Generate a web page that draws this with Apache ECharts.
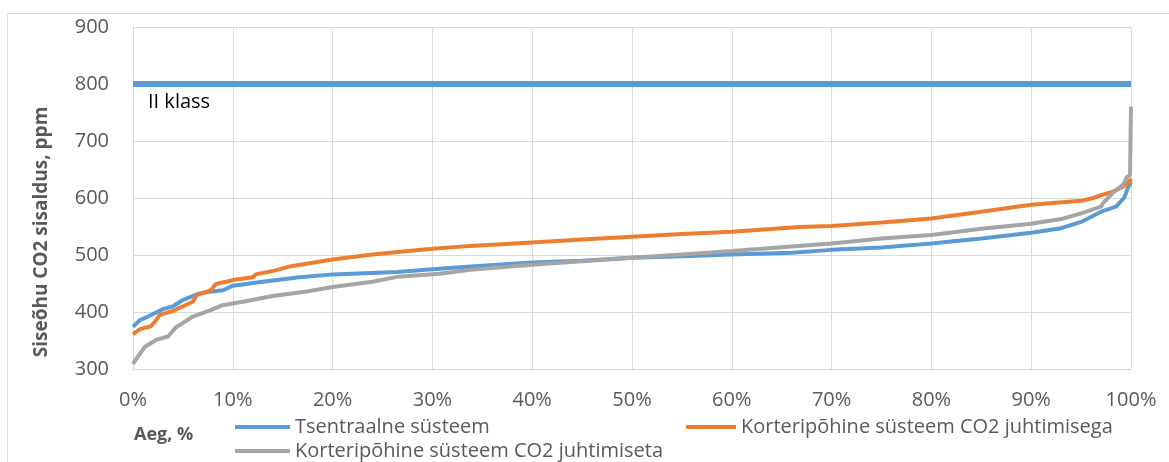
<!DOCTYPE html>
<html>
<head>
<meta charset="utf-8">
<script src="https://cdn.jsdelivr.net/npm/echarts@6/dist/echarts.min.js"></script>
<style>
  html,body{margin:0;padding:0;background:#fff;}
  #main{width:1169px;height:462px;}
</style>
</head>
<body>
<div id="main"></div>
<script>
// aeg, % (x) ja CO2 sisaldus, ppm (y)
const pctTsentraalne = [0,0.7,1.5,3,4,5,6.4,7.5,9,10,13,16.7,20,26.5,30,33.8,40,45,50,55,60,66,70,75,80,85,90,93,95,97,98.5,99.3,99.7,100];
const co2Tsentraalne = [374,386,392,405,410,421,431,435,438,446,453,461,466,470,475,480,487,490,495,498,501,504,509,513,520,529,539,547,558,576,585,600,618,628];

const pctKorterCO2 = [0,0.7,1.8,2.2,2.7,4,6,6.4,7.8,8.3,10,12,12.3,14.3,15.7,20,24,29.4,33.8,40,45,50,55,60,66.8,70,75,80,85,90,95,96.2,97,98.2,99.2,99.8,100];
const co2KorterCO2 = [361,370,375,383,395,402,418,430,438,449,456,461,466,473,480,492,501,510,516,522,527,532,537,541,549,551,557,564,576,588,595,600,605,611,620,628,634];

const pctKorterIlma = [0,0.5,1.2,2.3,3.5,4.3,6,7.7,9,11,14,17.4,20,24,26.6,30.7,33.8,40,45,50,55,60,66,70,75,80,85,90,93,95,97,97.3,98.3,99.2,99.6,99.9,100];
const co2KorterIlma = [309,322,339,351,357,373,392,403,412,418,428,436,444,453,462,467,474,483,489,495,501,507,515,520,529,535,546,555,563,573,585,593,611,623,637,640,760];

const klassPct = [0,100];
const klassCO2 = [800,800];

const seriesNames = ['Tsentraalne süsteem','Korteripõhine süsteem CO2 juhtimisega','Korteripõhine süsteem CO2 juhtimiseta'];

function zip(a,b){ return a.map((v,i)=>[v,b[i]]); }

const chart = echarts.init(document.getElementById('main'));
const font = '"Open Sans", sans-serif';
const legendText = {fontFamily:font,fontSize:20,color:'#595959'};

chart.setOption({
  animation:false,
  textStyle:{fontFamily:font},
  grid:{left:133,top:27,width:998,height:342,containLabel:false},
  xAxis:{
    type:'value',min:0,max:100,interval:10,
    axisLine:{show:true,lineStyle:{color:'#d9d9d9',width:1}},
    axisTick:{show:false},
    splitLine:{show:true,lineStyle:{color:'#d9d9d9',width:1}},
    axisLabel:{formatter:'{value}%',margin:21,fontFamily:font,fontSize:20,color:'#595959'}
  },
  yAxis:{
    type:'value',min:300,max:900,interval:100,
    axisLine:{show:true,lineStyle:{color:'#d9d9d9',width:1}},
    axisTick:{show:false},
    splitLine:{show:true,lineStyle:{color:'#d9d9d9',width:1}},
    axisLabel:{margin:24,fontFamily:font,fontSize:20,color:'#595959'}
  },
  legend:[
    {data:[seriesNames[0]],left:235,top:417,icon:'rect',itemWidth:55,itemHeight:4,itemGap:0,textStyle:legendText,padding:0},
    {data:[seriesNames[1]],left:686,top:417,icon:'rect',itemWidth:50,itemHeight:4,itemGap:0,textStyle:legendText,padding:0},
    {data:[seriesNames[2]],left:235,top:441,icon:'rect',itemWidth:55,itemHeight:4,itemGap:0,textStyle:legendText,padding:0}
  ],
  graphic:[
    {type:'rect',shape:{x:7.5,y:13.5,width:1200,height:500},style:{fill:'none',stroke:'#d9d9d9',lineWidth:1},silent:true},
    {type:'text',left:148,top:92,style:{text:'II klass',fontFamily:font,fontSize:20,fill:'#000'}},
    {type:'text',left:134,top:426,style:{text:'Aeg, %',fontFamily:font,fontSize:18,fontWeight:'bold',fill:'#595959'}},
    {type:'text',x:42,y:232,rotation:Math.PI/2,style:{text:'Siseõhu CO2 sisaldus, ppm',fontFamily:font,fontSize:19,fontWeight:'bold',fill:'#595959',align:'center',verticalAlign:'middle'}}
  ],
  series:[
    {name:'II klass',type:'line',data:zip(klassPct,klassCO2),symbol:'none',lineStyle:{color:'#5b9bd5',width:6},itemStyle:{color:'#5b9bd5'}},
    {name:seriesNames[0],type:'line',data:zip(pctTsentraalne,co2Tsentraalne),symbol:'none',lineStyle:{color:'#5b9bd5',width:4},itemStyle:{color:'#5b9bd5'}},
    {name:seriesNames[1],type:'line',data:zip(pctKorterCO2,co2KorterCO2),symbol:'none',lineStyle:{color:'#ed7d31',width:4},itemStyle:{color:'#ed7d31'}},
    {name:seriesNames[2],type:'line',data:zip(pctKorterIlma,co2KorterIlma),symbol:'none',lineStyle:{color:'#a5a5a5',width:4},itemStyle:{color:'#a5a5a5'}}
  ]
});
</script>
</body>
</html>
